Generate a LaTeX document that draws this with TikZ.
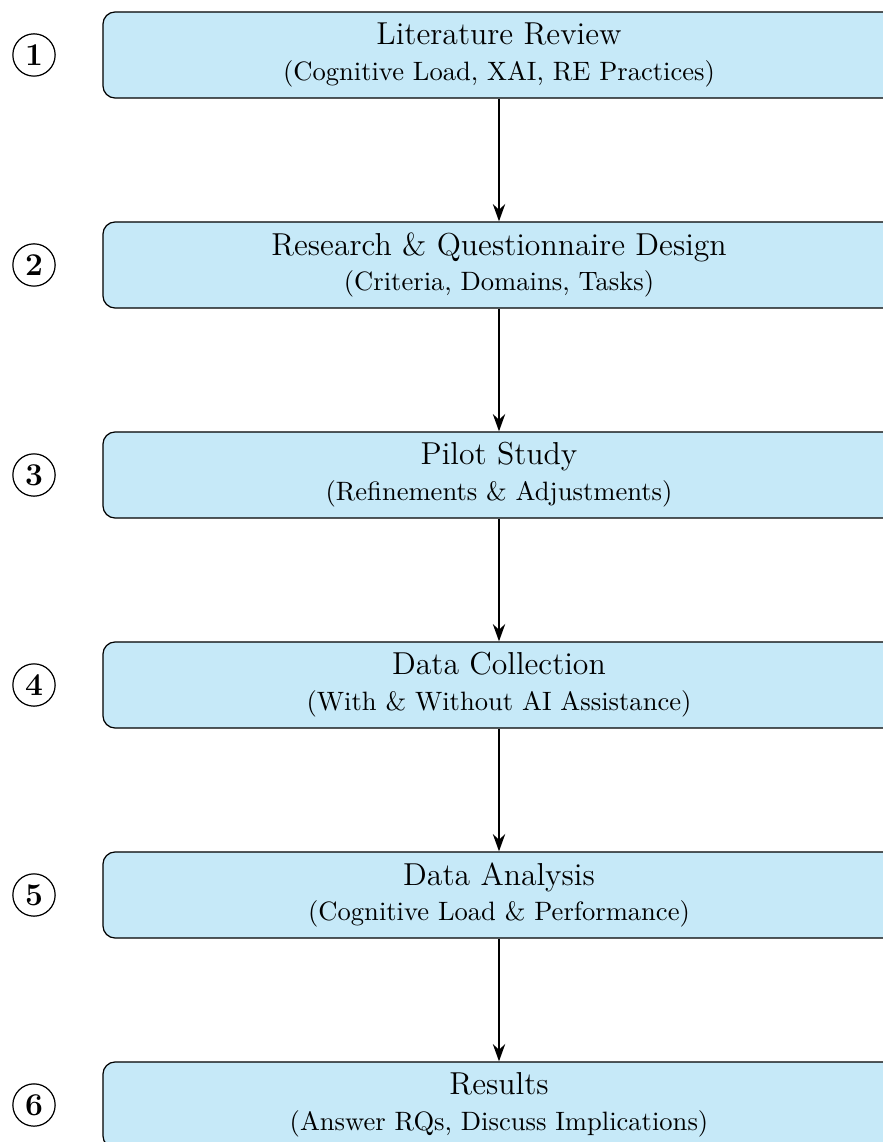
\documentclass[tikz,border=0pt]{standalone}
\usetikzlibrary{arrows.meta}
\definecolor{boxfill}{RGB}{198,233,248}
\newdimen\px \px=0.4065pt
\tikzset{
  stage/.style={draw=black, line width=0.5pt, fill=boxfill, rounded corners=5pt,
    minimum width=322pt, minimum height=35pt, inner sep=0pt, align=center,
    font=\fontsize{12.9}{14.6}\selectfont},
  num/.style={draw=black, line width=0.5pt, circle, minimum size=17.2pt, inner sep=0pt,
    font=\fontsize{12.9}{14.6}\selectfont\bfseries},
  flow/.style={-{Stealth[length=7pt,width=5pt]}, line width=0.8pt}
}
\newcommand{\sub}[1]{\\[0pt]{\fontsize{10.8}{13}\selectfont #1}}
\begin{document}
\begin{tikzpicture}[x=\px, y=-\px]
\useasboundingbox (0,0) rectangle (883,1142);
\clip (0,0) rectangle (883,1142);
\node[stage] (b1) at (499,55)  {Literature Review\sub{(Cognitive Load, XAI, RE Practices)}};
\node[stage] (b2) at (499,265) {Research \& Questionnaire Design\sub{(Criteria, Domains, Tasks)}};
\node[stage] (b3) at (499,475) {Pilot Study\sub{(Refinements \& Adjustments)}};
\node[stage] (b4) at (499,685) {Data Collection\sub{(With \& Without AI Assistance)}};
\node[stage] (b5) at (499,895) {Data Analysis\sub{(Cognitive Load \& Performance)}};
\node[stage] (b6) at (499,1105) {Results\sub{(Answer RQs, Discuss Implications)}};
\node[num] (n1) at (34,55) {1};
\node[num] (n2) at (34,265) {2};
\node[num] (n3) at (34,475) {3};
\node[num] (n4) at (34,685) {4};
\node[num] (n5) at (34,895) {5};
\node[num] (n6) at (34,1105) {6};
\draw[flow] (b1) -- (b2);
\draw[flow] (b2) -- (b3);
\draw[flow] (b3) -- (b4);
\draw[flow] (b4) -- (b5);
\draw[flow] (b5) -- (b6);
\end{tikzpicture}
\end{document}
